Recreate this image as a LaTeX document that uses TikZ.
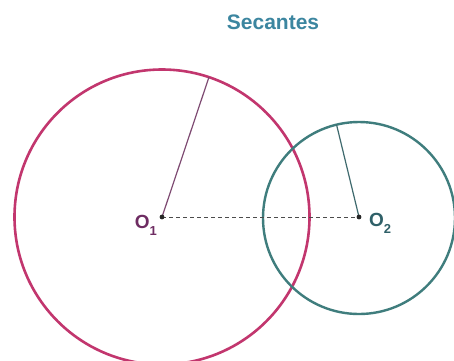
\documentclass[tikz,border=0pt]{standalone}
\usepackage{fontspec}
\setmainfont{Liberation Sans}
\definecolor{crim}{HTML}{C2366E}
\definecolor{tealc}{HTML}{3F7D7D}
\definecolor{titlec}{HTML}{3C86A0}
\definecolor{labA}{HTML}{6E2C62}
\definecolor{labB}{HTML}{2F6068}
\definecolor{radA}{HTML}{7E4A72}
\definecolor{radB}{HTML}{3F6A6E}
\begin{document}
\begin{tikzpicture}[x=1pt,y=-1pt,
  bigc/.style={draw=crim,line width=2.6pt},
  smallc/.style={draw=tealc,line width=2.4pt},
  radl/.style={line width=1.2pt},
  dotc/.style={fill=black!85,draw=none},
  lab/.style={font=\fontsize{19}{21}\selectfont\bfseries,inner sep=0pt}]
\useasboundingbox (0,0) rectangle (454,360);
\fill[white] (0,0) rectangle (454,360);
\coordinate (O1) at (162,217);
\coordinate (O2) at (359,217);
\coordinate (R1) at (209,77);
\coordinate (R2) at (336.5,124.5);
\node[font=\fontsize{21}{24}\selectfont\bfseries,text=titlec,inner sep=0pt] (title) at (273,22) {Secantes};
\draw[bigc] (O1) circle[radius=147.5];
\draw[smallc] (359,218) circle[radius=96];
\draw[line width=1pt,black!70,dash pattern=on 4pt off 3pt] (O1) -- (O2);
\draw[radl,radA] (O1) -- (R1);
\draw[radl,radB] (O2) -- (R2);
\fill[dotc] (O1) circle[radius=2.4];
\fill[dotc] (O2) circle[radius=2.4];
\node[lab,text=labA,anchor=east] (l1) at (157,225) {O\raisebox{-0.7ex}{\fontsize{13}{14}\selectfont 1}};
\node[lab,text=labB,anchor=west] (l2) at (369,223) {O\raisebox{-0.7ex}{\fontsize{13}{14}\selectfont 2}};
\end{tikzpicture}
\end{document}
